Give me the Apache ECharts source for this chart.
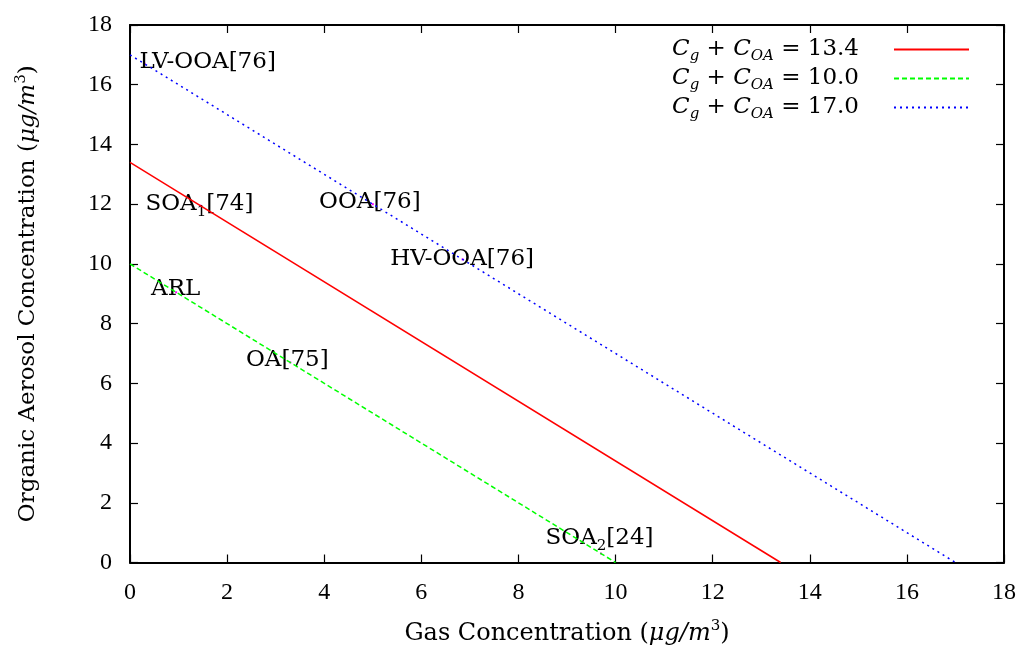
<!DOCTYPE html>
<html>
<head>
<meta charset="utf-8">
<script src="https://cdn.jsdelivr.net/npm/echarts@6.0.0/dist/echarts.min.js"></script>
<style>
  html, body { margin: 0; padding: 0; background: #fff; }
  #main { width: 1024px; height: 653px; }
</style>
</head>
<body>
<div id="main"></div>
<script>
// totals C_g + C_OA, each drawn as a straight line from axis to axis
var totals = ['13.4', '10.0', '17.0'];
var redLine = [[0, 13.4], [13.4, 0]];
var greenLine = [[0, 10], [10, 0]];
var blueLine = [[0, 17], [17, 0]];

// measured points (magenta dots)
var pointX = [0.3, 1.45, 5.0, 6.85, 0.95, 3.3, 9.7];
var pointY = [16.7, 11.95, 12.0, 10.15, 9.05, 6.7, 0.3];

// label texts and where they sit
var labelNames = ['LV-OOA[76]', 'SOA1[74]', 'OOA[76]', 'HV-OOA[76]', 'ARL', 'OA[75]', 'SOA2[24]'];
var labelX = [1.6, 1.43, 4.94, 6.84, 0.94, 3.24, 9.67];
var labelY = [16.76, 12.0, 12.06, 10.17, 9.17, 6.79, 0.82];

var FONT = '"DejaVu Serif", "Liberation Serif", serif';
var TICKFONT = '"Liberation Serif", serif';

var points = [];
for (var i = 0; i < pointX.length; i++) {
    points.push([pointX[i], pointY[i]]);
}
var labels = [];
for (var j = 0; j < labelNames.length; j++) {
    labels.push({ name: labelNames[j], value: [labelX[j], labelY[j]] });
}

function labelText(name) {
    // SOA1 / SOA2 get a subscript digit
    var m = name.match(/^SOA(\d)(.*)$/);
    if (m) {
        return '{r|SOA}{s|' + m[1] + '}{r|' + m[2] + '}';
    }
    return '{r|' + name + '}';
}

var romanStyle = { fontFamily: FONT, fontSize: 23, color: '#000', lineHeight: 28, verticalAlign: 'middle' };
var italicStyle = { fontFamily: FONT, fontSize: 23, fontStyle: 'italic', color: '#000', lineHeight: 28, verticalAlign: 'middle' };
var subStyle = {
    fontFamily: FONT, fontSize: 15, color: '#000',
    lineHeight: 14, padding: [16, 0, 0, 0], verticalAlign: 'middle'
};
var supStyle = {
    fontFamily: FONT, fontSize: 15, color: '#000',
    lineHeight: 14, padding: [0, 0, 14, 0], verticalAlign: 'middle'
};
// axis titles a touch larger
var titleRoman = Object.assign({}, romanStyle, { fontSize: 24 });
var titleItalic = Object.assign({}, italicStyle, { fontSize: 24 });

var axisCommon = {
    type: 'value',
    min: 0,
    max: 18,
    interval: 2,
    splitLine: { show: false },
    axisLine: { show: true, onZero: false, lineStyle: { color: '#000', width: 2 } },
    axisTick: { show: true, inside: true, length: 8, lineStyle: { color: '#000', width: 1.2 } }
};

var myChart = echarts.init(document.getElementById('main'));
var option = {
    backgroundColor: '#fff',
    animation: false,
    grid: { left: 130, right: 20, top: 25, bottom: 86 },
    legend: {
        orient: 'vertical',
        right: 49,
        top: 30,
        align: 'right',
        itemWidth: 75,
        itemHeight: 14,
        itemGap: 0,
        data: totals,
        itemStyle: { opacity: 0 },
        formatter: function (name) {
            return '{i|C}{s|g}{r| + }{i|C}{s|OA}{r| = ' + name + '}';
        },
        textStyle: {
            padding: [0, 30, 0, 0],
            rich: {
                r: romanStyle,
                i: italicStyle,
                s: Object.assign({}, subStyle, { fontStyle: 'italic', padding: [14, 0, 0, 0] })
            }
        }
    },
    xAxis: [
        Object.assign({}, axisCommon, {
            position: 'bottom',
            name: '{r|Gas Concentration (}{i|μg/m}{p|3}{r|)}',
            nameLocation: 'middle',
            nameGap: 57,
            nameTextStyle: { rich: { r: titleRoman, i: titleItalic, p: supStyle } },
            axisLabel: { margin: 18, fontFamily: TICKFONT, fontSize: 24, color: '#000' }
        }),
        Object.assign({}, axisCommon, {
            position: 'top',
            axisLabel: { show: false }
        })
    ],
    yAxis: [
        Object.assign({}, axisCommon, {
            position: 'left',
            name: '{r|Organic Aerosol Concentration (}{i|μg/m}{p|3}{r|)}',
            nameLocation: 'middle',
            nameGap: 88,
            nameTextStyle: { rich: { r: romanStyle, i: italicStyle, p: supStyle } },
            axisLabel: { margin: 18, fontFamily: TICKFONT, fontSize: 24, color: '#000' }
        }),
        Object.assign({}, axisCommon, {
            position: 'right',
            axisLabel: { show: false }
        })
    ],
    series: [
        {
            name: totals[0], type: 'line', data: redLine, symbol: 'none',
            lineStyle: { color: '#ff0000', width: 1.5, type: 'solid' },
            itemStyle: { color: '#ff0000' }
        },
        {
            name: totals[1], type: 'line', data: greenLine, symbol: 'none',
            lineStyle: { color: '#00ff00', width: 1.5, type: [5, 3] },
            itemStyle: { color: '#00ff00' }
        },
        {
            name: totals[2], type: 'line', data: blueLine, symbol: 'none',
            lineStyle: { color: '#0000ff', width: 1.5, type: [2, 4] },
            itemStyle: { color: '#0000ff' }
        },
        {
            name: 'points', type: 'scatter', data: points,
            symbol: 'rect', symbolSize: 2,
            itemStyle: { color: '#ff00ff', opacity: 1 }
        },
        {
            name: 'labels', type: 'scatter', data: labels,
            symbolSize: 0,
            silent: true,
            itemStyle: { opacity: 1 },
            label: {
                show: true,
                position: 'inside',
                opacity: 1,
                formatter: function (p) { return labelText(p.name); },
                rich: { r: romanStyle, s: subStyle }
            }
        }
    ]
};
myChart.setOption(option);
</script>
</body>
</html>
